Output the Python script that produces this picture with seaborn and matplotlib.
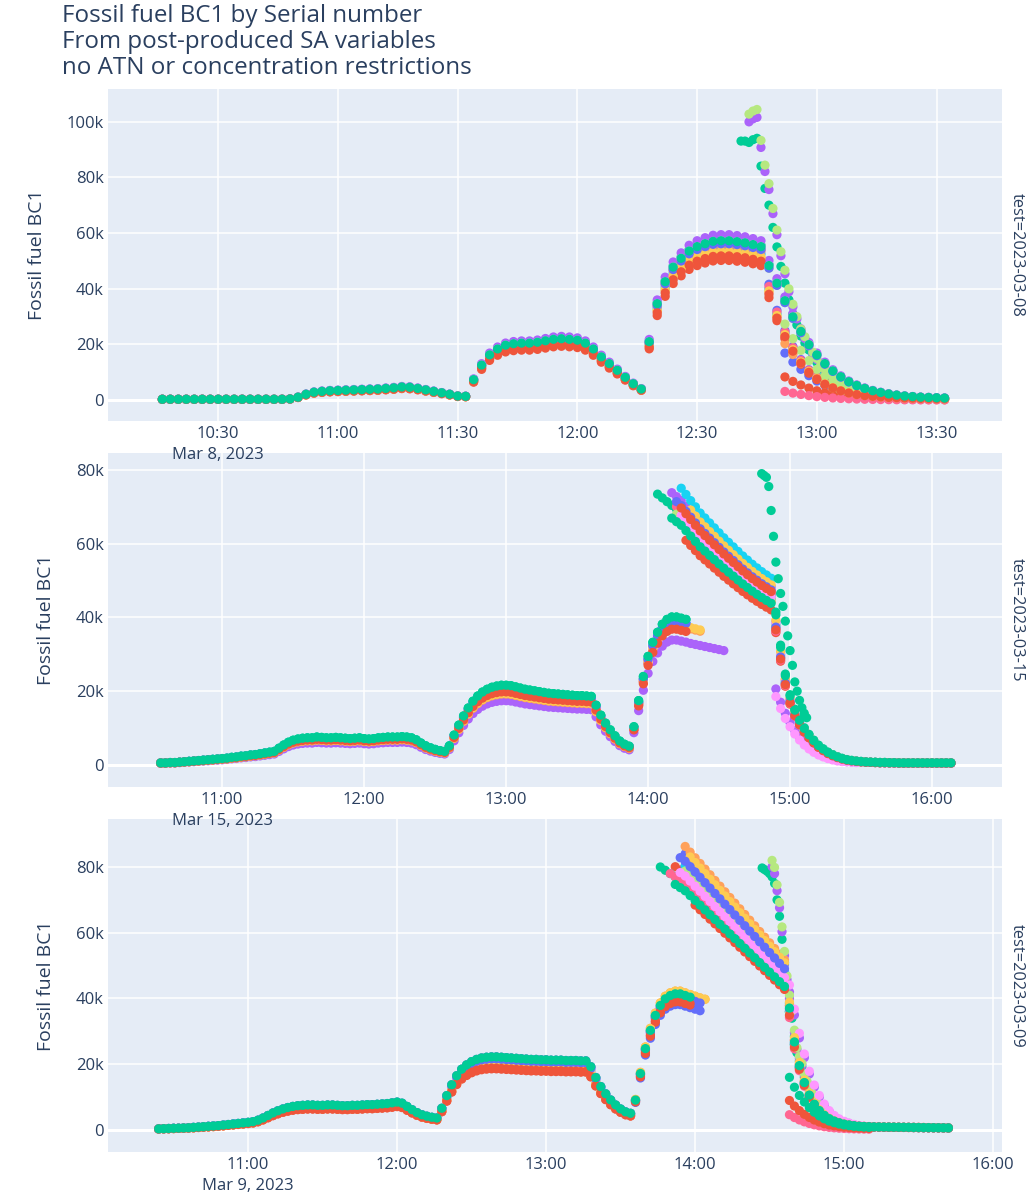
import matplotlib
matplotlib.use('Agg')
import matplotlib.pyplot as plt
import matplotlib.dates as mdates
import matplotlib.transforms as mtransforms
import seaborn as sns
import pandas as pd
import numpy as np

# serial numbers, coloured with the plotly default cycle
serials = ['MA350-0412', 'MA350-0417', 'MA350-0420', 'MA350-0426', 'MA350-0431',
           'MA350-0436', 'MA350-0440', 'MA350-0444', 'MA350-0450', 'MA350-0457',
           'MA350-0461', 'MA350-0468', 'MA350-0472']
colors = ['#636EFA', '#EF553B', '#00CC96', '#AB63FA', '#FFA15A', '#19D3F3', '#FF6692',
          '#B6E880', '#FF97FF', '#FECB52', '#636EFA', '#EF553B', '#00CC96']

tests = ['2023-03-08', '2023-03-15', '2023-03-09']
date_labels = ['Mar 8, 2023', 'Mar 15, 2023', 'Mar 9, 2023']

# ---------------- test 2023-03-08 (values in k) ----------------
main_0308 = [0.3, 0.3, 0.3, 0.3, 0.3, 0.3, 0.3, 0.3, 0.3, 0.3,          # 10:16
             0.3, 0.3, 0.3, 0.3, 0.3, 0.3, 0.4, 1.0, 2.0, 2.7,          # 10:36
             3.0, 3.2, 3.3, 3.4, 3.5, 3.6, 3.7, 3.8, 4.0, 4.2,          # 10:56
             4.5, 4.4, 4.0, 3.5, 3.0, 2.5, 2.0, 1.4, 1.3, 7.0,          # 11:16
             12.0, 15.5, 17.5, 18.8, 19.3, 19.5, 19.5, 19.8, 20.3, 20.8,  # 11:36
             21.0, 20.8, 20.5, 19.5, 17.5, 14.8, 12.5, 10.2, 7.8, 5.6,  # 11:56
             3.8, 20.0, 33.0, 40.5, 45.5, 48.5, 51.0, 52.5, 53.5, 54.3,  # 12:16
             54.5, 54.5, 54.2, 53.8, 53.2, 52.5]                         # 12:36
fast_0308 = [40, 31, 24, 18.5, 14, 10.5, 8, 6, 4.6, 3.5, 2.7, 2.1, 1.7, 1.4, 1.2,
             1.0, 0.9, 0.8, 0.7, 0.6, 0.6, 0.5, 0.5]
slow_0308 = [46, 40, 34, 28.5, 23.5, 19, 15.5, 12.5, 10, 8, 6.3, 5, 4, 3.2, 2.6,
             2.1, 1.7, 1.4, 1.2, 1.0, 0.9, 0.8, 0.7]
restart_0308 = [26, 21, 17, 13.5, 10.5, 8.2, 6.4, 5, 4, 3.2, 2.5, 2, 1.6, 1.3, 1.1,
                0.9, 0.8, 0.7, 0.6, 0.6, 0.5]
spike_0308 = [93, 93, 92.5, 93.5, 94, 84, 76, 70, 62, 55, 48, 42, 36, 31, 27, 23,
              20.5, 18, 15.5, 13.5, 11.5, 10, 8.7, 7.5, 6.5, 5.5, 4.7, 4, 3.5, 3]
scale_0308 = [1.04, 0.92, 1.06, 1.09, 0.97, 1.0, 1.02, 1.03, 1.05, 0.98, 1.03, 0.95, 1.05]
tail_0308 = ['fast', 'fast', 'slow', 'slow', 'fast', 'fast', 'fast', 'slow', 'slow',
             'fast', 'slow', 'fast', 'slow']
extra_0308 = [(7, 'restart', 1.05, 0), (4, 'restart', 0.78, 0), (0, 'restart', 0.65, 0),
              (1, 'restart', 0.32, 0), (6, 'restart', 0.12, 0),
              (2, 'spike', 1.0, 0), (3, 'spike', 1.08, 2), (7, 'spike', 1.11, 2)]

# ---------------- test 2023-03-15 ----------------
main_0315 = [0.5, 0.5, 0.6, 0.6, 0.7, 0.8, 0.9, 1.0, 1.1, 1.2,         # 10:34
             1.3, 1.4, 1.5, 1.6, 1.7, 1.9, 2.0, 2.2, 2.3, 2.5,         # 10:54
             2.6, 2.8, 3.0, 3.2, 3.4, 4.2, 5.0, 5.7, 6.2, 6.5,         # 11:14
             6.7, 6.8, 6.8, 7.0, 6.9, 6.8, 6.8, 6.9, 6.8, 6.7,         # 11:34
             6.6, 6.7, 6.8, 6.6, 6.5, 6.6, 6.8, 6.9, 7.0, 7.0,         # 11:54
             7.0, 7.1, 7.0, 6.8, 6.3, 5.5, 4.8, 4.3, 3.9, 3.6,         # 12:14
             3.4, 4.8, 7.5, 10.0, 12.3, 14.3, 16.0, 17.3, 18.3, 19.0,  # 12:34
             19.5, 19.8, 20.0, 20.0, 19.9, 19.6, 19.3, 19.0, 18.8, 18.6,  # 12:54
             18.4, 18.2, 18.0, 17.9, 17.8, 17.7, 17.6, 17.5, 17.4, 17.4,  # 13:14
             17.3, 17.2, 15.0, 12.5, 10.5, 8.8, 7.3, 6.0, 5.2, 4.7]    # 13:34
rise_0315 = [9.5, 16, 22, 27, 30.5, 33, 35, 36.2, 36.8, 36.8, 36.5, 36.2, 35.8, 35.5,
             35.2, 34.9, 34.6, 34.3, 34.0, 33.7]
high_0315 = [72, 71, 70, 69, 68, 67, 65.5, 64, 62.5, 61, 59.8, 58.6, 57.4, 56.2, 55,
             53.9, 52.8, 51.7, 50.6, 49.6, 48.6, 47.7, 46.8, 46, 45.2]
drop_0315 = [37, 29, 22, 17, 13.5, 11, 9, 7.4, 6, 4.8, 3.9, 3.1, 2.5, 2.0, 1.6, 1.3,
             1.1, 0.95, 0.85, 0.75, 0.7, 0.65, 0.6, 0.6, 0.55, 0.55, 0.5, 0.5, 0.5, 0.5,
             0.5, 0.5, 0.5, 0.5, 0.5, 0.5, 0.5, 0.5]
restart_0315 = [20.6, 17, 14, 11.5, 9.3, 7.5, 6, 4.8, 3.8, 3, 2.4, 1.9, 1.5, 1.2, 1.0,
                0.9, 0.8, 0.7]
spike_0315 = [79, 78.5, 78, 75.5, 69, 62, 55, 50.5, 46.5, 43, 39, 35, 31, 27, 22.5, 20,
              17.5, 15.5, 14, 12.8]
scale_0315 = [1.05, 1.0, 1.08, 0.87, 0.96, 1.06, 1.02, 1.04, 1.03, 0.97, 1.05, 0.99, 1.08]
rise_scale_0315 = [1.06, 1.02, 1.09, 0.92, 1.03, 1.06, 1.03, 1.05, 1.04, 1.04, 1.06, 1.0, 1.09]
rise_n_0315 = [12, 12, 12, 20, 15, 12, 12, 12, 12, 15, 12, 12, 12]
high_scale_0315 = [1.0, 0.93, 1.02, 1.07, 0.98, 1.12, 1.03, 1.0, 1.01, 1.08, 1.05, 1.04, 0.97]
high_skip_0315 = [5, 6, 0, 3, 5, 5, 4, 4, 5, 7, 4, 5, 3]
drop_scale_0315 = [1.0, 0.97, 1.12, 1.05, 1.0, 1.03, 0.98, 1.02, 1.04, 1.06, 1.01, 0.99, 1.1]
extra_0315 = [(3, 'restart', 1.0, 0), (8, 'restart', 0.9, 0), (12, 'spike', 1.0, 0)]

# ---------------- test 2023-03-09 ----------------
main_0309 = [0.3, 0.35, 0.4, 0.45, 0.5, 0.55, 0.6, 0.7, 0.8, 0.9,      # 10:24
             1.0, 1.1, 1.2, 1.35, 1.5, 1.65, 1.8, 1.95, 2.1, 2.3,      # 10:44
             2.7, 3.3, 4.0, 4.7, 5.3, 5.8, 6.2, 6.5, 6.7, 6.8,         # 11:04
             6.9, 6.9, 6.8, 6.8, 6.9, 6.9, 6.8, 6.7, 6.7, 6.8,         # 11:24
             6.8, 6.9, 7.0, 7.0, 7.1, 7.2, 7.3, 7.5, 7.7, 7.4,         # 11:44
             6.5, 5.6, 4.8, 4.2, 3.8, 3.5, 3.3, 6.0, 9.5, 12.5,        # 12:04
             15.0, 16.8, 18.0, 18.9, 19.5, 19.9, 20.1, 20.2, 20.2, 20.1,  # 12:24
             20.0, 19.9, 19.8, 19.7, 19.6, 19.5, 19.5, 19.4, 19.4, 19.3,  # 12:44
             19.3, 19.3, 19.2, 19.2, 19.2, 19.1, 19.1, 17.5, 14.5, 12.0,  # 13:04
             10.0, 8.3, 6.9, 5.8, 5.0, 4.6]                              # 13:24
rise_0309 = [9, 17, 24.5, 30, 34.5, 37.5, 39.5, 40.5, 41, 41, 40.5, 40, 39.5, 39, 38.6]
high_0309 = [80, 79, 78, 77, 76, 75, 73.5, 72, 70.5, 69, 67.5, 66, 64.5, 63, 61.5, 60,
             58.5, 57, 55.5, 54, 52.5, 51, 49.5, 48, 46.5, 45]
fast_0309 = [36, 26, 19, 14, 10.3, 7.6, 5.7, 4.3, 3.3, 2.6, 2.1, 1.7, 1.45, 1.25, 1.1,
             1.0, 0.95, 0.9, 0.88, 0.86, 0.84, 0.82, 0.8, 0.78, 0.76, 0.74, 0.72, 0.7,
             0.68, 0.66, 0.64, 0.62, 0.6]
slow_0309 = [42, 35, 28, 22, 17, 13, 10, 7.5, 5.6, 4.2, 3.2, 2.5, 2.0, 1.6, 1.3, 1.1,
             1.0, 0.95, 0.9, 0.88, 0.86, 0.84, 0.82, 0.8, 0.78, 0.76, 0.74, 0.72, 0.7,
             0.68, 0.66, 0.64, 0.62]
restart_0309 = [16, 13, 10.5, 8.5, 6.8, 5.4, 4.3, 3.4, 2.7, 2.2, 1.8, 1.5, 1.3, 1.1, 1.0,
                0.9, 0.8]
spike_0309 = [79.7, 79.2, 78.7, 78, 77, 75, 70, 65, 58, 51, 44, 38.5, 34, 28.5, 23.5, 21,
              19, 16, 14, 12, 10.5, 9, 7.8, 6.8, 5.9, 5.1, 4.5, 4.0, 3.5, 3.1, 2.8, 2.5,
              2.3, 2.1]
scale_0309 = [1.08, 0.92, 1.1, 1.1, 0.95, 1.05, 1.0, 1.03, 1.06, 0.96, 1.07, 0.93, 1.1]
rise_scale_0309 = [0.93, 0.95, 1.01, 1.0, 1.03, 1.0, 0.98, 1.0, 1.0, 1.03, 0.99, 0.96, 1.01]
rise_n_0309 = [14, 12, 12, 12, 15, 12, 12, 12, 12, 15, 14, 12, 12]
high_scale_0309 = [1.12, 1.04, 1.0, 1.07, 1.15, 1.07, 1.0, 1.05, 1.03, 1.13, 1.09, 0.95, 0.97]
high_skip_0309 = [5, 3, 0, 5, 5, 5, 2, 5, 4, 6, 4, 7, 3]
tail_0309 = ['fast', 'fast', 'fast', 'slow', 'fast', 'fast', 'fast', 'fast', 'slow',
             'fast', 'fast', 'fast', 'fast']
drop_scale_0309 = [1.0, 1.05, 1.0, 1.0, 1.05, 1.0, 0.95, 1.0, 1.05, 1.08, 1.02, 0.97, 1.03]
extra_0309 = [(12, 'restart', 1.0, 0), (11, 'restart', 0.56, 0), (6, 'restart', 0.29, 0),
              (2, 'spike', 1.0, 0), (7, 'spike', 1.065, 4), (3, 'spike', 1.04, 4)]

# segment table: name -> (start, step in minutes, values)
segments = {
    '2023-03-08': {'main': ('10:16', 2, main_0308), 'fast': ('12:48', 2, fast_0308),
                   'slow': ('12:48', 2, slow_0308), 'restart': ('12:52', 2, restart_0308),
                   'spike': ('12:41', 1, spike_0308)},
    '2023-03-15': {'main': ('10:34', 2, main_0315), 'rise': ('13:54', 2, rise_0315),
                   'high': ('14:04', 2, high_0315), 'drop': ('14:54', 2, drop_0315),
                   'restart': ('14:54', 2, restart_0315), 'spike': ('14:48', 1, spike_0315)},
    '2023-03-09': {'main': ('10:24', 2, main_0309), 'rise': ('13:36', 2, rise_0309),
                   'high': ('13:46', 2, high_0309), 'fast': ('14:38', 2, fast_0309),
                   'slow': ('14:38', 2, slow_0309), 'restart': ('14:38', 2, restart_0309),
                   'spike': ('14:27', 1, spike_0309)},
}

n = len(serials)
rows = {
    '2023-03-08': [(i, 'main', scale_0308[i], 0, None) for i in range(n)]
                  + [(i, tail_0308[i], scale_0308[i], 0, None) for i in range(n)]
                  + [(i, s, f, k, None) for i, s, f, k in extra_0308],
    '2023-03-15': [(i, 'main', scale_0315[i], 0, None) for i in range(n)]
                  + [(i, 'rise', rise_scale_0315[i], 0, rise_n_0315[i]) for i in range(n)]
                  + [(i, 'high', high_scale_0315[i], high_skip_0315[i], None) for i in range(n)]
                  + [(i, 'drop', drop_scale_0315[i], 0, None) for i in range(n)]
                  + [(i, s, f, k, None) for i, s, f, k in extra_0315],
    '2023-03-09': [(i, 'main', scale_0309[i], 0, None) for i in range(n)]
                  + [(i, 'rise', rise_scale_0309[i], 0, rise_n_0309[i]) for i in range(n)]
                  + [(i, 'high', high_scale_0309[i], high_skip_0309[i], None) for i in range(n)]
                  + [(i, tail_0309[i], drop_scale_0309[i], 0, None) for i in range(n)]
                  + [(i, s, f, k, None) for i, s, f, k in extra_0309],
}

frames = []
for test in tests:
    for i, seg, fac, skip, count in rows[test]:
        start, step, vals = segments[test][seg]
        v = vals[skip:] if count is None else vals[skip:count]
        t0 = pd.Timestamp(f'{test} {start}') + pd.Timedelta(minutes=step * skip)
        t = t0 + pd.to_timedelta(np.arange(len(v)) * step, unit='min')
        frames.append(pd.DataFrame({'time': t, 'value': np.array(v) * fac * 1000,
                                    'serial': serials[i], 'order': i, 'test': test}))
df = pd.concat(frames, ignore_index=True)
df = df.sort_values('order', kind='stable')

# axis settings
xlims = {'2023-03-08': ('10:02:24', '13:46:24'), '2023-03-15': ('10:11:45', '16:29:35'),
         '2023-03-09': ('10:03:36', '16:03:36')}
xticks = {'2023-03-08': ['10:30', '11:00', '11:30', '12:00', '12:30', '13:00', '13:30'],
          '2023-03-15': ['11:00', '12:00', '13:00', '14:00', '15:00', '16:00'],
          '2023-03-09': ['11:00', '12:00', '13:00', '14:00', '15:00', '16:00']}
ylims = {'2023-03-08': (-7500, 111700), '2023-03-15': (-6000, 84600),
         '2023-03-09': (-6700, 94600)}
yticks = {'2023-03-08': [0, 20000, 40000, 60000, 80000, 100000],
          '2023-03-15': [0, 20000, 40000, 60000, 80000],
          '2023-03-09': [0, 20000, 40000, 60000, 80000]}

sns.set_theme(style='white')
plt.rcParams['font.family'] = ['Open Sans', 'DejaVu Sans']
txt = '#2a3f5f'
palette = dict(zip(serials, colors))

W, H = 1031, 1193
fig = plt.figure(figsize=(W / 100, H / 100), dpi=100)
boxes = [(0.1048, 0.6471, 0.8671, 0.2783), (0.1048, 0.3403, 0.8671, 0.2800),
         (0.1048, 0.0344, 0.8671, 0.2791)]

for test, box, dlabel in zip(tests, boxes, date_labels):
    ax = fig.add_axes(box)
    ax.set_facecolor('#E5ECF6')
    sub = df[df['test'] == test]
    sns.scatterplot(data=sub, x='time', y='value', hue='serial', palette=palette,
                    s=44, linewidth=0, alpha=1, legend=False, ax=ax, zorder=3)
    ax.set_xlim(pd.Timestamp(f'{test} {xlims[test][0]}'), pd.Timestamp(f'{test} {xlims[test][1]}'))
    ax.set_ylim(*ylims[test])
    ticks = [pd.Timestamp(f'{test} {h}') for h in xticks[test]]
    ax.set_xticks(ticks)
    ax.set_xticklabels(xticks[test], color=txt, fontsize=12)
    ax.set_yticks(yticks[test])
    ax.set_yticklabels(['0' if v == 0 else f'{v // 1000}k' for v in yticks[test]],
                       color=txt, fontsize=12)
    ax.tick_params(axis='both', length=0)
    ax.tick_params(axis='x', pad=3.5)
    ax.tick_params(axis='y', pad=3)
    ax.grid(True, color='white', linewidth=1.1)
    ax.set_axisbelow(True)
    ax.axhline(0, color='white', linewidth=2.2, zorder=1)
    for sp in ax.spines.values():
        sp.set_visible(False)
    ax.set_xlabel('')
    ax.set_ylabel('Fossil fuel BC1', color=txt, fontsize=14, labelpad=15)
    ax.text(1.017, 0.5, f'test={test}', transform=ax.transAxes, rotation=-90,
            ha='center', va='center', color=txt, fontsize=11.8)
    # date line under the first tick, drawn at figure level so it sits above the next panel
    bottom_px = (1 - box[1]) * H
    tr = mtransforms.blended_transform_factory(ax.transData, fig.transFigure)
    x0 = mdates.date2num(ticks[0].to_pydatetime())
    fig.text(x0, 1 - (bottom_px + 34) / H, dlabel, transform=tr,
             ha='center', va='center', color=txt, fontsize=12, zorder=10)

fig.text(0.060, 0.9966, 'Fossil fuel BC1 by Serial number\nFrom post-produced SA variables\n'
         'no ATN or concentration restrictions', ha='left', va='top', color=txt,
         fontsize=17.4, linespacing=1.1)

fig.savefig('out.png', dpi=100)
